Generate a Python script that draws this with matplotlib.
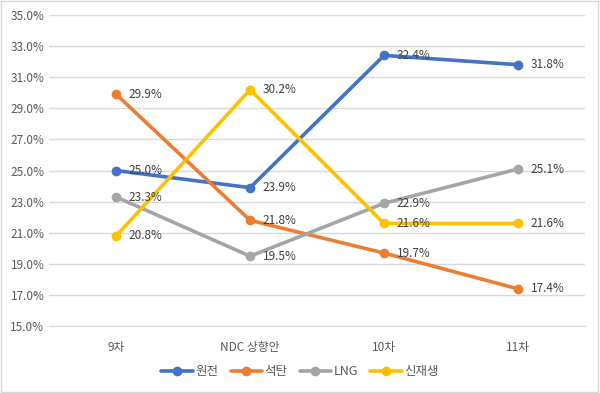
import matplotlib
matplotlib.use("Agg")
import matplotlib.pyplot as plt
from matplotlib.ticker import FuncFormatter

plt.rcParams["font.family"] = ["Noto Sans CJK KR", "DejaVu Sans"]

categories = ["9차", "NDC 상향안", "10차", "11차"]
series_names = ["원전", "석탄", "LNG", "신재생"]
nuclear = [25.0, 23.9, 32.4, 31.8]
coal = [29.9, 21.8, 19.7, 17.4]
lng = [23.3, 19.5, 22.9, 25.1]
renew = [20.8, 30.2, 21.6, 21.6]
colors = ["#4472C4", "#ED7D31", "#A5A5A5", "#FFC000"]

fig = plt.figure(figsize=(6.0, 3.93), dpi=100)
ax = fig.add_axes([0.082, 0.17, 0.893, 0.792])

x = list(range(len(categories)))
for name, vals, c in zip(series_names, [nuclear, coal, lng, renew], colors):
    ax.plot(x, vals, color=c, linewidth=2.6, marker="o", markersize=6,
            label=name, solid_capstyle="round")
    for xi, v in zip(x, vals):
        ax.annotate(f"{v:.1f}%", (xi, v), xytext=(9, 0), textcoords="offset points",
                    va="center", ha="left", fontsize=8.5, color="#404040")

ax.set_xlim(-0.5, 3.5)
ax.set_ylim(15, 35)
ax.set_yticks(range(15, 36, 2))
ax.yaxis.set_major_formatter(FuncFormatter(lambda v, p: f"{v:.1f}%"))
ax.set_xticks(x)
ax.set_xticklabels(categories)
ax.tick_params(axis="both", length=0, labelsize=8.5, colors="#595959")
ax.tick_params(axis="x", pad=11)
ax.grid(axis="y", color="#D9D9D9", linewidth=1)
ax.set_axisbelow(True)
for s in ["top", "right", "left"]:
    ax.spines[s].set_visible(False)
ax.spines["bottom"].set_color("#D9D9D9")

fig.legend(loc="center", bbox_to_anchor=(0.5, 0.055), ncol=4, frameon=False,
           fontsize=9, handlelength=2.5, columnspacing=1.0, handletextpad=0.2,
           labelcolor="#595959")

border = plt.Rectangle((0.002, 0.003), 0.995, 0.994, transform=fig.transFigure,
                       fill=False, edgecolor="#D9D9D9", linewidth=1)
fig.patches.append(border)

fig.savefig("out.png", dpi=100)
